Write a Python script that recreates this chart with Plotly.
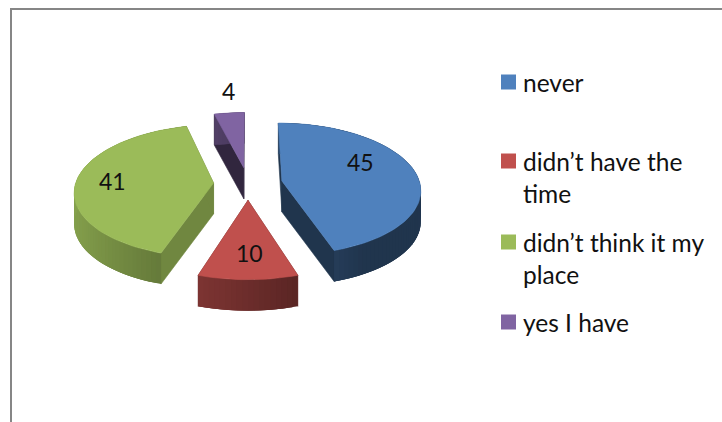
import numpy as np
import plotly.graph_objects as go

# ---- data ----
categories = ["never", "didn\u2019t have the time", "didn\u2019t think it my place", "yes I have"]
values = [45, 10, 41, 4]
legend_lines = [["never"], ["didn\u2019t have the", "time"], ["didn\u2019t think it my", "place"], ["yes I have"]]

# ---- style ----
colors = [(79, 129, 189), (192, 80, 77), (155, 187, 89), (128, 100, 162)]
cut_shades = [0.41, 0.55, 0.72, 0.38]
label_xy = [(360, 162), (249, 253), (112, 181), (228, 91)]
legend_y = [[82], [161, 193], [242, 274], [322]]
FONT = "Lato"
LABEL_SIZE = 23
LEGEND_SIZE = 24.5
CX, CY = 248, 183.5
RX, RY = 138, 65.4
PERSP = 0.12
EXPLODE = 0.25
DEPTH = 31


def project(u, v):
    p = 1 / (1 + PERSP * v)
    return CX + RX * u * p, CY - RY * v * p


def rgb(c, s=1.0):
    return "rgb(%d,%d,%d)" % tuple(int(round(min(255, x * s))) for x in c)


def poly(fig, xs, ys, color, name=None, edge=0.6):
    fig.add_trace(go.Scatter(
        x=list(xs) + [xs[0]], y=list(ys) + [ys[0]], mode="lines", fill="toself",
        fillcolor=color, line=dict(color=color, width=edge),
        hoverinfo="skip" if name is None else "text", text=name, showlegend=False))


fig = go.Figure()
total = sum(values)
edges = np.cumsum([0] + values) / total * 360.0

# back-to-front drawing order
for i in [3, 2, 0, 1]:
    a0, a1 = edges[i], edges[i + 1]
    mid = np.radians((a0 + a1) / 2)
    ou, ov = EXPLODE * np.sin(mid), EXPLODE * np.cos(mid)
    th = np.radians(np.linspace(a0, a1, max(3, int((a1 - a0) / 2) + 1)))
    us, vs = ou + np.sin(th), ov + np.cos(th)
    ax, ay = project(ou, ov)
    xs, ys = project(us, vs)
    # flat cut faces
    cut = rgb(colors[i], cut_shades[i])
    for k in (0, -1):
        poly(fig, [ax, xs[k], xs[k], ax], [ay, ys[k], ys[k] + DEPTH, ay + DEPTH], cut)
    # outer rim, shaded left to right; each strip overlaps the next so no seams show
    n = len(th)
    for j in range(n - 1):
        s = max(cut_shades[0], 0.56 - 0.3 * np.sin((th[j] + th[j + 1]) / 2))
        seg = list(range(j, min(j + 4, n)))
        px = [xs[q] for q in seg] + [xs[q] for q in reversed(seg)]
        py = [ys[q] for q in seg] + [ys[q] + DEPTH for q in reversed(seg)]
        poly(fig, px, py, rgb(colors[i], s), edge=0)
    # top face
    poly(fig, [ax] + list(xs), [ay] + list(ys), rgb(colors[i]),
         name="%s: %d" % (categories[i], values[i]))

annotations = []
for v, (lx, ly) in zip(values, label_xy):
    annotations.append(dict(x=lx, y=ly, text=str(v), showarrow=False, xanchor="center", yanchor="middle",
                            font=dict(family=FONT, size=LABEL_SIZE, color="#111111")))

# legend swatches and text
fig.add_trace(go.Scatter(
    x=[508.5] * 4, y=[ys_[0] for ys_ in legend_y], mode="markers", hoverinfo="text",
    text=categories, showlegend=False,
    marker=dict(symbol="square", size=15, color=[rgb(c) for c in colors], line=dict(width=0))))
for lines, ypos in zip(legend_lines, legend_y):
    for t, y in zip(lines, ypos):
        annotations.append(dict(x=523, y=y, text=t, showarrow=False, xanchor="left", yanchor="middle",
                                xshift=-2, font=dict(family=FONT, size=LEGEND_SIZE, color="#111111")))

fig.update_layout(
    width=722, height=422, margin=dict(l=0, r=0, t=0, b=0),
    paper_bgcolor="white", plot_bgcolor="white", showlegend=False,
    xaxis=dict(range=[0, 722], visible=False, fixedrange=True),
    yaxis=dict(range=[422, 0], visible=False, fixedrange=True),
    annotations=annotations,
    shapes=[dict(type="rect", x0=11, y0=9, x1=800, y1=500, line=dict(color="#868686", width=2), layer="below")],
)
fig.write_html("out.html", config={"displayModeBar": False},
               post_script="document.body.style.margin='0';document.body.style.overflow='hidden';")
